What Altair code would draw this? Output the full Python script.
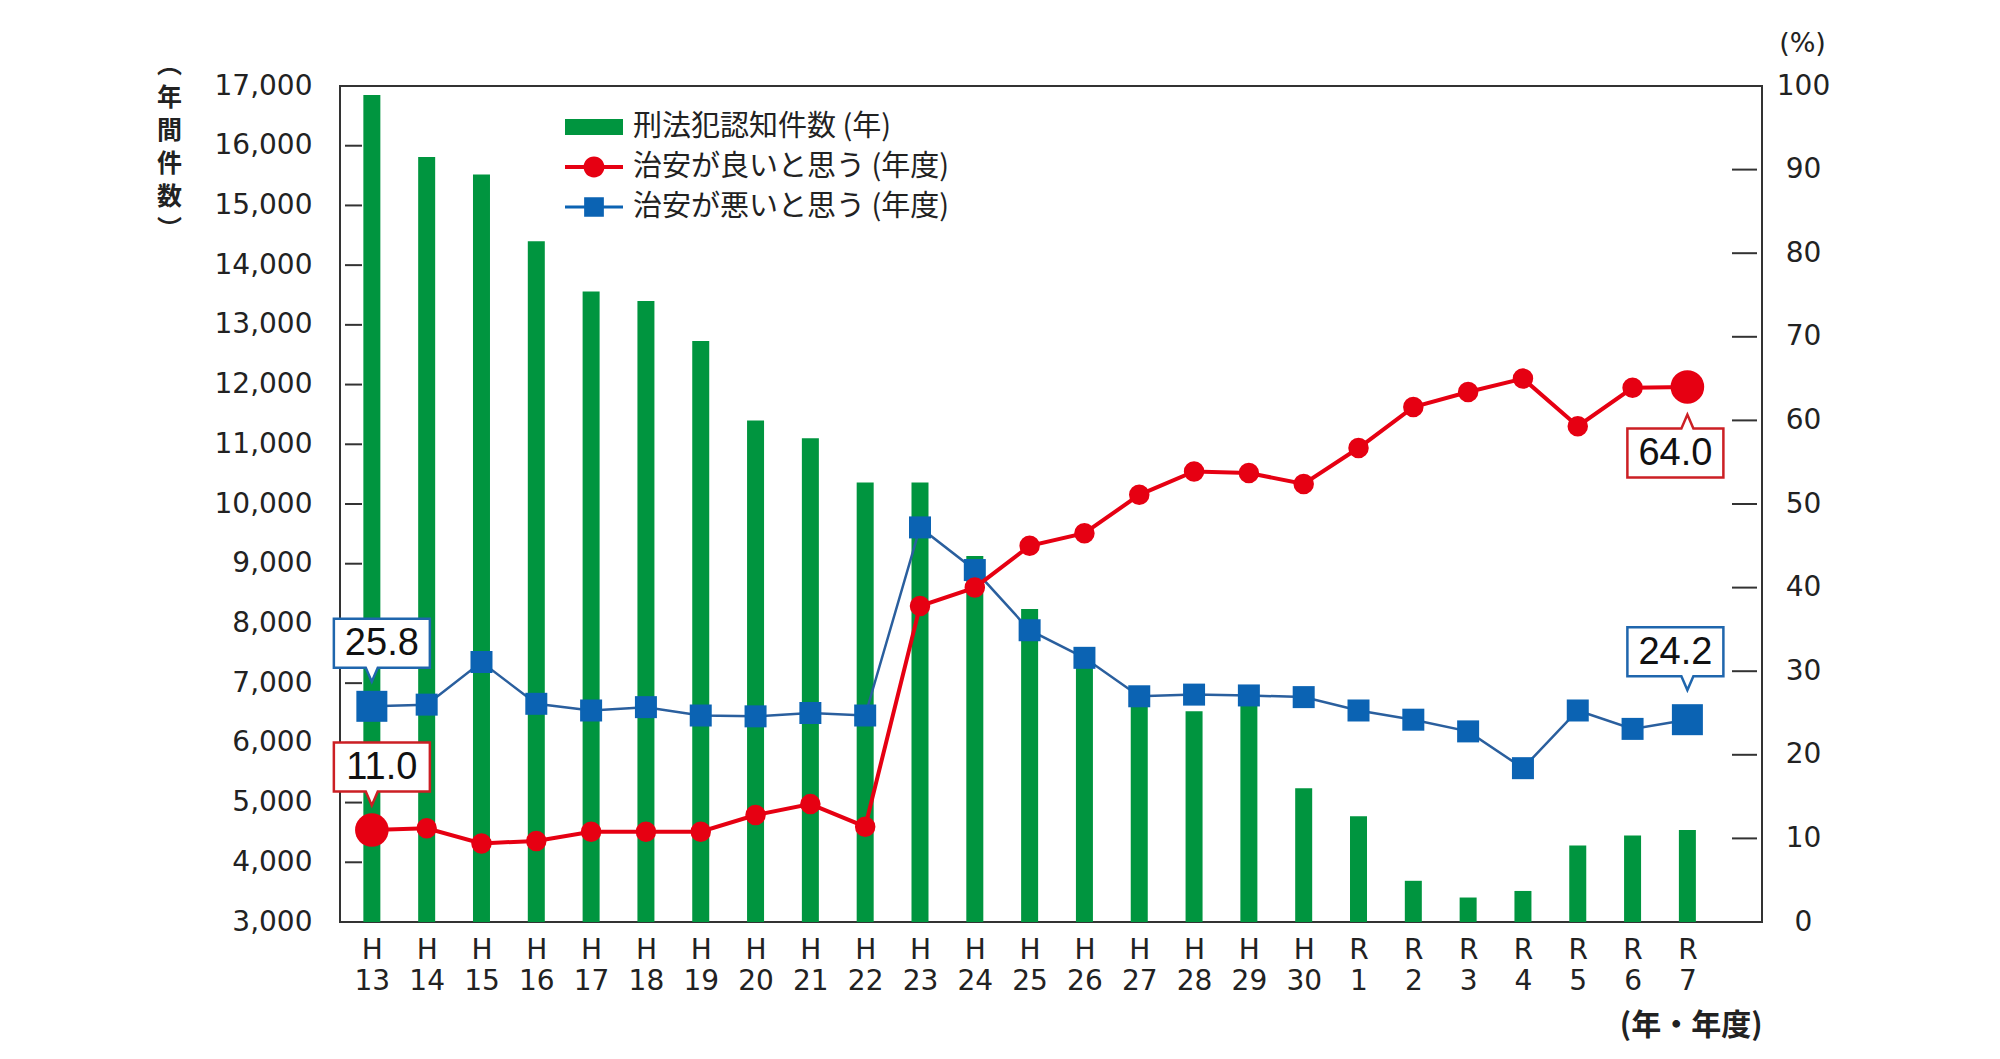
import altair as alt
import pandas as pd

# ---- data ----
eras = ["H"] * 18 + ["R"] * 7
nums = ["13", "14", "15", "16", "17", "18", "19", "20", "21", "22", "23", "24",
        "25", "26", "27", "28", "29", "30", "1", "2", "3", "4", "5", "6", "7"]
crimes = [16850, 15810, 15520, 14400, 13560, 13400, 12730, 11400, 11100, 10360,
          10360, 9130, 8240, 7400, 6800, 6530, 6800, 5240, 4770, 3690, 3410,
          3520, 4280, 4450, 4540]
good = [11.0, 11.2, 9.4, 9.7, 10.8, 10.8, 10.8, 12.8, 14.1, 11.4, 37.8, 40.0,
        45.0, 46.5, 51.1, 53.9, 53.7, 52.4, 56.7, 61.6, 63.4, 65.0, 59.3, 63.9, 64.0]
bad = [25.8, 26.0, 31.1, 26.1, 25.3, 25.7, 24.7, 24.6, 25.0, 24.7, 47.2, 42.1,
       34.9, 31.6, 27.0, 27.2, 27.1, 26.9, 25.3, 24.2, 22.8, 18.4, 25.3, 23.1, 24.2]
names = ["刑法犯認知件数 (年)", "治安が良いと思う (年度)", "治安が悪いと思う (年度)"]
left_ticks = [3000, 4000, 5000, 6000, 7000, 8000, 9000, 10000, 11000, 12000,
              13000, 14000, 15000, 16000, 17000]
right_ticks = [0, 10, 20, 30, 40, 50, 60, 70, 80, 90, 100]

GREEN = "#00953f"
RED = "#e60012"
BLUE = "#0b63b3"
BLUE_LINE = "#2a5f9e"
RED_BOX = "#cc1f24"
BLUE_BOX = "#1f66ad"
CJK = "Noto Sans CJK JP"
NUMF = "DejaVu Sans"

n = len(nums)
last = n - 1
df = pd.DataFrame({"idx": list(range(n)), "crimes": crimes, "good": good, "bad": bad})

X_MIN, X_MAX = -0.49, 25.27
xscale = alt.Scale(domain=[X_MIN, X_MAX], nice=False, zero=False)
label_expr = "[" + ",".join(f"['{e}','{m}']" for e, m in zip(eras, nums)) + "][datum.value]"
x_axis = alt.Axis(
    values=list(range(n)), labelExpr=label_expr, ticks=False, tickSize=0, domain=False,
    grid=False, labelFont=NUMF, labelFontSize=28, labelColor="#222", labelLineHeight=31,
    labelBaseline="middle", labelAlign="center", labelPadding=28, labelOverlap=False,
    labelFlush=False, title="(年・年度)", titleFont=CJK, titleFontSize=30,
    titleFontWeight="bold", titleColor="#222", titleX=1422, titleY=103,
    titleAlign="right", titleBaseline="middle",
)
X = alt.X("idx:Q", scale=xscale, axis=x_axis)

lscale = alt.Scale(domain=[3000, 17000], nice=False, zero=False)
l_axis = alt.Axis(
    values=left_ticks, format=",d", ticks=False, tickSize=0, domain=False, grid=False,
    labelFont=NUMF, labelFontSize=28, labelColor="#222", labelPadding=28,
    title=["︵", "年", "間", "件", "数", "︶"], titleAngle=0, titleX=-171, titleY=-34,
    titleAlign="center", titleBaseline="top", titleLineHeight=33, titleFont=CJK,
    titleFontSize=25, titleFontWeight="bold", titleColor="#222",
)
rscale = alt.Scale(domain=[0, 100], nice=False, zero=False)
r_axis = alt.Axis(
    orient="right", values=right_ticks, format="d", ticks=False, tickSize=0,
    domain=False, grid=False, labelFont=NUMF, labelFontSize=28, labelColor="#222",
    labelPadding=41, labelAlign="center", title="(%)", titleAngle=0, titleX=40,
    titleY=-43, titleAlign="center", titleBaseline="middle", titleFont=NUMF,
    titleFontSize=27, titleFontWeight="normal", titleColor="#222",
)

base = alt.Chart(df)

# ---- left axis group: bars + inward ticks ----
bars = base.mark_bar(size=17, color=GREEN).encode(
    x=X, y=alt.Y("crimes:Q", scale=lscale, axis=l_axis),
    y2=alt.Y2Datum(left_ticks[0]))
lticks = alt.Chart(pd.DataFrame({"crimes": left_ticks})).mark_tick(
    orient="horizontal", size=17, thickness=2, color="#333", xOffset=8.5, opacity=1
).encode(x=alt.XDatum(X_MIN, type="quantitative", scale=xscale, axis=x_axis),
         y=alt.Y("crimes:Q", scale=lscale, axis=l_axis))
left = alt.layer(bars, lticks)

# ---- right axis group: lines, markers, callouts ----
def ry(field):
    return alt.Y(f"{field}:Q", scale=rscale, axis=r_axis)

rticks = alt.Chart(pd.DataFrame({"good": right_ticks[1:-1]})).mark_tick(
    orient="horizontal", size=25, thickness=2, color="#333", xOffset=-12.5, opacity=1
).encode(x=alt.XDatum(X_MAX, type="quantitative", scale=xscale, axis=x_axis), y=ry("good"))

ends = f"datum.idx == 0 || datum.idx == {last}"
blue_line = base.mark_line(color=BLUE_LINE, strokeWidth=2.5).encode(x=X, y=ry("bad"))
blue_pts = base.mark_point(shape="square", filled=True, color=BLUE, opacity=1).encode(
    x=X, y=ry("bad"), size=alt.condition(ends, alt.value(961), alt.value(484)))
red_line = base.mark_line(color=RED, strokeWidth=4).encode(x=X, y=ry("good"))
red_pts = base.mark_point(shape="circle", filled=True, color=RED, opacity=1).encode(
    x=X, y=ry("good"), size=alt.condition(ends, alt.value(1130), alt.value(420)))

# callout boxes with a pointer notch
DOWN_L = "M-1,-0.51H1V0.51H-0.085L-0.21,0.8L-0.335,0.51H-1Z"
DOWN_R = "M-1,-0.51H1V0.51H0.375L0.25,0.8L0.125,0.51H-1Z"
UP_R = "M-1,-0.51H0.125L0.25,-0.8L0.375,-0.51H1V0.51H-1Z"
calls = pd.DataFrame({
    "idx": [0, 0, last, last],
    "v": [bad[0], good[0], bad[last], good[last]],
    "kind": ["bad", "good", "bad", "good"],
})
calls["txt"] = calls["v"].map(lambda v: f"{v:.1f}")


def callout(filt, path, dx, dy):
    c = alt.Chart(calls).transform_filter(filt)
    box = c.mark_point(shape=path, size=9216, filled=True, opacity=1, strokeWidth=2.5,
                       xOffset=dx, yOffset=dy).encode(
        x=X, y=ry("v"), fill=alt.value("white"),
        stroke=alt.condition("datum.kind == 'good'", alt.value(RED_BOX), alt.value(BLUE_BOX)))
    txt = c.mark_text(font="Liberation Sans", fontSize=38, color="#111", dx=dx, dy=dy + 1,
                      align="center", baseline="middle").encode(x=X, y=ry("v"), text="txt:N")
    return [box, txt]


callouts = (callout("datum.idx == 0", DOWN_L, 10, -63)
            + callout(f"datum.idx == {last} && datum.kind == 'bad'", DOWN_R, -12, -68)
            + callout(f"datum.idx == {last} && datum.kind == 'good'", UP_R, -12, 66))

# legend carried by an empty layer
SYM_BAR = "M-1,-0.276H1V0.276H-1Z"
SYM_GOOD = "M-1,-0.07H1V0.07H-1Z M0.36,0A0.36,0.36 0 1,1 -0.36,0A0.36,0.36 0 1,1 0.36,0Z"
SYM_BAD = "M-1,-0.05H1V0.05H-1Z M-0.34,-0.34H0.34V0.34H-0.34Z"
leg = alt.Legend(orient="none", legendX=225, legendY=21, title=None, symbolSize=3364,
                 symbolStrokeWidth=0, symbolOpacity=1, labelFont=CJK, labelFontSize=29,
                 labelColor="#222", labelLimit=600, labelOffset=10, clipHeight=40,
                 rowPadding=0, padding=0)
legend_layer = alt.Chart(pd.DataFrame({"name": names})).mark_point(
    filled=True, opacity=1).encode(
    color=alt.Color("name:N", scale=alt.Scale(domain=names, range=[GREEN, RED, BLUE]), legend=leg),
    shape=alt.Shape("name:N", scale=alt.Scale(domain=names, range=[SYM_BAR, SYM_GOOD, SYM_BAD]), legend=leg),
).transform_filter("false")

right = alt.layer(rticks, blue_line, blue_pts, red_line, red_pts, *callouts, legend_layer)

chart = alt.layer(left, right).resolve_scale(y="independent").properties(
    width=1422, height=836,
    autosize=alt.AutoSizeParams(type="none"),
    padding={"left": 332, "top": 78, "right": 210, "bottom": 120},
    background="white",
).configure_view(stroke="#333", strokeWidth=2)

chart.save("out.html", embed_options={"renderer": "svg", "actions": False})
